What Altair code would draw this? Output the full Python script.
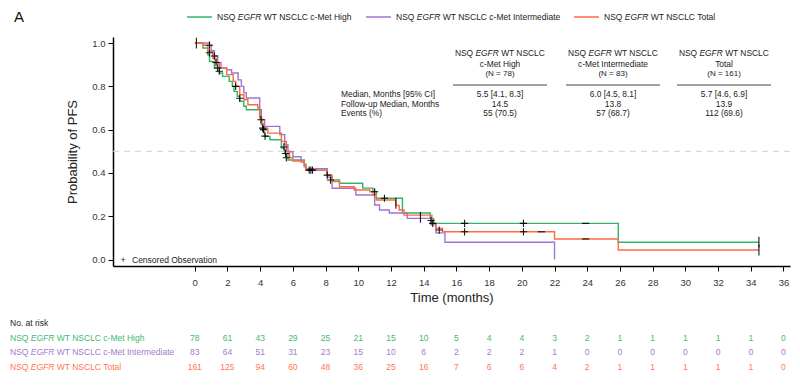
import altair as alt
import pandas as pd

FONT = "Liberation Sans"

# ---------------- data ----------------
groups = ["High", "Intermediate", "Total"]
group_names = ["c-Met High", "c-Met Intermediate", "Total"]
colors = ["#34b36c", "#a274d0", "#ff6a3f"]
risk_colors = ["#3fb975", "#a47ad0", "#ff7650"]

high_t = [0, 0.5, 0.8, 0.9, 1.2, 1.5, 1.7, 2.1, 2.3, 2.4, 2.6, 2.75, 3.0, 3.15, 4.0, 4.07, 4.2, 4.27, 4.6, 5.3,
          5.5, 5.7, 6.7, 6.8, 8.1, 8.35, 8.85, 10.27, 10.9, 11.1, 12.7, 14.4, 14.6, 25.9, 34.5]
high_s = [1.0, 0.977, 0.946, 0.915, 0.885, 0.862, 0.846, 0.823, 0.80, 0.777, 0.754, 0.731, 0.708, 0.692, 0.662,
          0.623, 0.592, 0.569, 0.553, 0.515, 0.49, 0.46, 0.44, 0.413, 0.39, 0.367, 0.352, 0.33, 0.315, 0.283,
          0.215, 0.19, 0.167, 0.08, 0.08]

int_t = [0, 0.9, 1.0, 1.2, 1.4, 1.6, 1.95, 2.25, 2.65, 2.85, 3.0, 3.15, 3.97, 4.07, 4.27, 5.2, 5.5, 5.7, 6.0, 6.5,
         6.7, 6.8, 8.1, 8.4, 9.85, 11.0, 11.3, 11.9, 13.0, 14.45, 14.75, 15.3, 22.0]
int_s = [1.0, 0.99, 0.965, 0.94, 0.91, 0.885, 0.877, 0.862, 0.83, 0.80, 0.77, 0.746, 0.692, 0.646, 0.615, 0.577,
         0.53, 0.498, 0.475, 0.45, 0.43, 0.42, 0.38, 0.329, 0.298, 0.252, 0.229, 0.215, 0.19, 0.16, 0.123, 0.08, 0.0]

tot_t = [0, 0.5, 0.8, 1.1, 1.3, 1.5, 1.95, 2.35, 2.5, 2.75, 3.0, 3.25, 3.85, 3.97, 4.1, 4.17, 4.47, 5.3, 5.6, 5.8,
         6.0, 6.7, 6.8, 8.1, 8.4, 8.85, 9.75, 10.7, 10.9, 11.1, 12.3, 12.5, 12.8, 14.5, 14.75, 15.15, 22.0, 25.9, 34.5]
tot_s = [1.0, 0.99, 0.96, 0.93, 0.905, 0.885, 0.854, 0.823, 0.80, 0.761, 0.738, 0.715, 0.70, 0.654, 0.63, 0.607,
         0.584, 0.546, 0.5, 0.47, 0.455, 0.43, 0.413, 0.39, 0.36, 0.336, 0.321, 0.313, 0.298, 0.275, 0.25, 0.229,
         0.205, 0.167, 0.144, 0.128, 0.095, 0.044, 0.044]

cens_t = [0.9, 0.9, 1.2, 1.3, 1.4, 1.5, 2.5, 2.75, 4.05, 4.15, 4.2, 4.3, 5.45, 5.55, 5.6, 7.0, 7.1, 7.2, 8.1, 8.3,
          11.0, 11.6, 14.45, 14.55, 14.95, 16.5, 20.1, 16.5, 20.1,
          0.1, 12.3, 13.8, 34.5, 34.5,
          23.9, 21.2, 23.9]
cens_s = [0.99, 0.955, 0.94, 0.91, 0.885, 0.87, 0.80, 0.745, 0.646, 0.607, 0.60, 0.57, 0.52, 0.49, 0.47, 0.413,
          0.413, 0.413, 0.39, 0.367, 0.313, 0.283, 0.18, 0.167, 0.136, 0.167, 0.167, 0.128, 0.128,
          1.0, 0.26, 0.195, 0.08, 0.044,
          0.167, 0.128, 0.095]
cens_kind = ["plus"] * 29 + ["vbar"] * 5 + ["dash"] * 3

risk_times = list(range(0, 37, 2))
risk_high = [78, 61, 43, 29, 25, 21, 15, 10, 5, 4, 4, 3, 2, 1, 1, 1, 1, 1, 0]
risk_int = [83, 64, 51, 31, 23, 15, 10, 6, 2, 2, 2, 1, 0, 0, 0, 0, 0, 0, 0]
risk_tot = [161, 125, 94, 60, 48, 36, 25, 16, 7, 6, 6, 4, 2, 1, 1, 1, 1, 1, 0]

n_pat = ["78", "83", "161"]
median_ci = ["5.5 [4.1, 8.3]", "6.0 [4.5, 8.1]", "5.7 [4.6, 6.9]"]
followup = ["14.5", "13.8", "13.9"]
events = ["55 (70.5)", "57 (68.7)", "112 (69.6)"]
row_labels = ["Median, Months [95% CI]", "Follow-up Median, Months", "Events (%)"]
y_ticks = [0.0, 0.2, 0.4, 0.6, 0.8, 1.0]

# ---------------- tables ----------------
curves = pd.concat([
    pd.DataFrame({"t": high_t, "s": high_s, "g": "High"}),
    pd.DataFrame({"t": int_t, "s": int_s, "g": "Intermediate"}),
    pd.DataFrame({"t": tot_t, "s": tot_s, "g": "Total"}),
], ignore_index=True)
cens = pd.DataFrame({"t": cens_t, "s": cens_s, "kind": cens_kind})
risk = pd.concat([
    pd.DataFrame({"t": risk_times, "n": risk_high, "g": "High"}),
    pd.DataFrame({"t": risk_times, "n": risk_int, "g": "Intermediate"}),
    pd.DataFrame({"t": risk_times, "n": risk_tot, "g": "Total"}),
], ignore_index=True)
dummy = pd.DataFrame({"k": [0]})

# ---------------- scales / axes ----------------
xs = alt.Scale(domain=[-5.0, 36.4], nice=False, zero=False)
ys = alt.Scale(domain=[-0.03, 1.028], nice=False, zero=False)
xa = alt.Axis(values=list(range(0, 37, 2)), title="Time (months)", tickSize=5, labelPadding=6,
              titlePadding=5, labelFontSize=9.5, titleFontSize=13)
ya = alt.Axis(values=y_ticks, format=".1f", title="Probability of PFS", tickSize=5, labelPadding=3,
              titlePadding=12, labelFontSize=9.5, titleFontSize=13)
x_enc = alt.X("t:Q", scale=xs, axis=xa)
y_enc = alt.Y("s:Q", scale=ys, axis=ya)

# ---------------- text helpers ----------------
W = {' ': 278, '(': 333, ')': 333, '-': 333, '=': 584, '[': 278, ']': 278, ',': 278, '.': 278, '%': 889, '+': 584}
for ch in "0123456789":
    W[ch] = 556
W.update(dict(zip("ABCDEFGHIJKLMNOPQRSTUVWXYZ",
                  [667, 667, 722, 722, 667, 611, 778, 722, 278, 500, 667, 556, 833, 722, 778, 667, 778, 722, 667,
                   611, 722, 667, 944, 667, 667, 611])))
W.update(dict(zip("abcdefghijklmnopqrstuvwxyz",
                  [556, 556, 500, 556, 556, 278, 556, 556, 222, 222, 500, 222, 833, 556, 556, 556, 556, 333, 500,
                   278, 556, 500, 722, 500, 500, 500])))


def tw(s, size):
    return sum(W.get(c, 556) for c in s) * size / 1000.0


def txt(s, x, y, size=8.5, color="#222222", italic=False, align="left", weight="normal"):
    return alt.Chart(dummy).mark_text(
        text=s, align=align, baseline="middle", fontSize=size, font=FONT,
        fontStyle="italic" if italic else "normal", fontWeight=weight, color=color
    ).encode(x=alt.value(x), y=alt.value(y))


def rich(parts, x, y, size=8.5, color="#222222", align="left"):
    total = sum(tw(p, size) for p, _ in parts)
    x0 = x - total / 2 if align == "center" else x
    out = []
    cur = x0
    for p, it in parts:
        stripped = p.lstrip(" ")
        lead = tw(p[: len(p) - len(stripped)], size)
        if stripped.strip():
            out.append(txt(stripped.rstrip(" "), cur + lead, y, size, color, it))
        cur += tw(p, size)
    return out


def hrule(x1, x2, y, color, width=1.0):
    return alt.Chart(dummy).mark_rule(color=color, strokeWidth=width).encode(
        x=alt.value(x1), x2=alt.value(x2), y=alt.value(y))


def egfr_parts(rest):
    return [("NSQ ", False), ("EGFR", True), (" " + rest, False)]


# ---------------- layers ----------------
half = alt.Chart(pd.DataFrame({"s": [0.5]})).mark_rule(
    color="#cfcfcf", strokeDash=[6, 5], strokeWidth=1).encode(y=y_enc)

lines = alt.Chart(curves).mark_line(interpolate="step-after", strokeWidth=1.4).encode(
    x=x_enc, y=y_enc,
    color=alt.Color("g:N", scale=alt.Scale(domain=["Intermediate", "Total", "High"],
                                           range=[colors[1], colors[2], colors[0]]), legend=None),
    detail="g:N")

cens_layer = alt.Chart(cens).mark_point(filled=False, color="black", strokeWidth=1.1, opacity=0.9).encode(
    x=x_enc, y=y_enc,
    shape=alt.Shape("kind:N", scale=alt.Scale(domain=["plus", "vbar", "dash"],
                                              range=["M-1,0H1M0,-1V1", "M0,-1.5V1.5", "M-1,0H1"]),
                    legend=None),
    size=alt.value(52))

layers = [half, lines, cens_layer]

# risk table numbers
risk_rows_y = [301, 315, 330]
for g, ry, rc in zip(groups, risk_rows_y, risk_colors):
    layers.append(
        alt.Chart(risk).transform_filter(alt.datum.g == g).mark_text(
            fontSize=8.5, font=FONT, baseline="middle", align="center", color=rc
        ).encode(x=x_enc, y=alt.value(ry), text="n:Q"))

# risk table labels
LX = -103
layers.append(txt("No. at risk", LX, 286, 8.5, "#222222"))
for name, ry, rc in zip(group_names, risk_rows_y, risk_colors):
    layers += rich(egfr_parts("WT NSCLC " + name), LX, ry, 8.5, rc)

# legend (top)
leg_x = [74, 253, 461]
for name, lx, c in zip(group_names, leg_x, colors):
    layers.append(hrule(lx, lx + 25, -20, c, 1.5))
    layers += rich(egfr_parts("WT NSCLC " + name), lx + 30, -20, 8.5, "#222222")

# summary table
col_x = [387, 500, 611]
for cx, name, n, m, f, e in zip(col_x, group_names, n_pat, median_ci, followup, events):
    layers += rich(egfr_parts("WT NSCLC"), cx, 16, 8.4, "#222222", align="center")
    layers.append(txt(name, cx, 27, 8.4, "#222222", align="center"))
    layers.append(txt("(N = " + n + ")", cx, 37, 8, "#222222", align="center"))
    layers.append(hrule(cx - 47, cx + 47, 48, "#444444", 1.2))
    layers.append(txt(m, cx, 57, 8.4, "#222222", align="center"))
    layers.append(txt(f, cx, 66.5, 8.4, "#222222", align="center"))
    layers.append(txt(e, cx, 76, 8.4, "#222222", align="center"))
for lbl, ly in zip(row_labels, [57, 66.5, 76]):
    layers.append(txt(lbl, 228, ly, 8.4, "#222222"))

# censored note and panel letter
layers.append(txt("+", 10, 223, 9, "#222222", align="center"))
layers.append(txt("Censored Observation", 19, 223, 8.5, "#222222"))
layers.append(txt("A", -99, -20, 15, "#111111"))

chart = alt.layer(*layers).properties(
    width=677, height=229,
    padding={"left": 105, "top": 29, "right": 2, "bottom": 111},
    autosize=alt.AutoSizeParams(type="none"),
).configure_view(stroke=None).configure_axis(
    grid=False, domainColor="black", domainWidth=1.5, tickColor="black", tickWidth=1,
    labelColor="#333333", titleColor="#222222", labelFont=FONT, titleFont=FONT,
    titleFontWeight="normal"
)

chart.save("out.html", embed_options={"renderer": "svg", "actions": False})
